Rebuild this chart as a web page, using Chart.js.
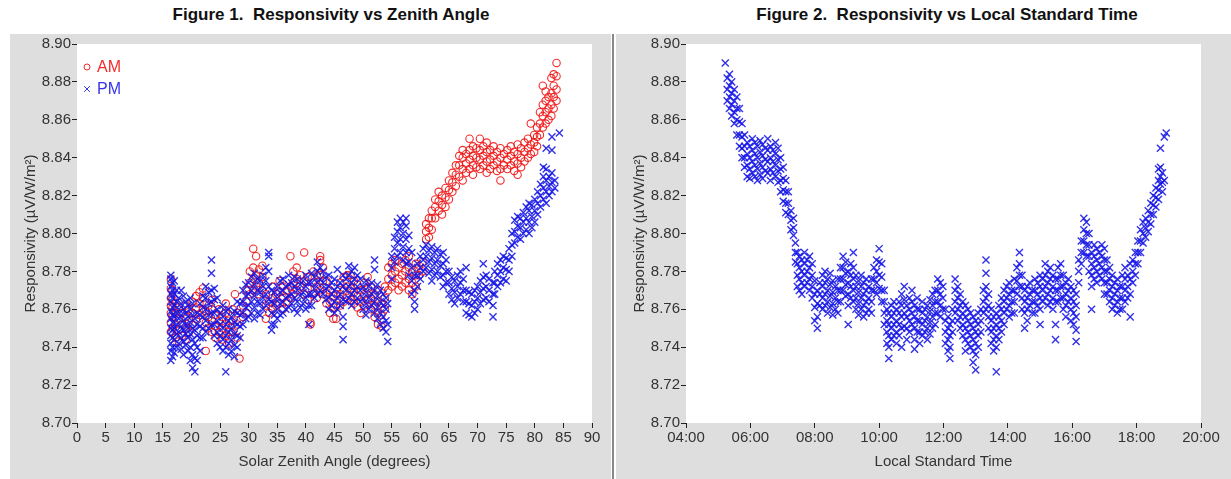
<!DOCTYPE html>
<html>
<head>
<meta charset="utf-8">
<script src="https://cdn.jsdelivr.net/npm/chart.js@4.4.1/dist/chart.umd.min.js"></script>
<style>
  body { margin:0; background:#fff; width:1231px; height:479px; position:relative; overflow:hidden;
         font-family:'Liberation Sans', Arial, sans-serif; }
  .title { position:absolute; top:5px; font-weight:bold; font-size:17px; color:#111; white-space:nowrap; transform:translateX(-50%); }
  .panel { position:absolute; top:34px; height:445px; background:#dedede; }
  #p1 { left:10px; width:601px; }
  #p2 { left:616px; width:615px; }
  #sep { position:absolute; left:612px; top:34px; width:2px; height:445px; background:#888; }
</style>
</head>
<body>
<div class="title" style="left:331px">Figure 1.&nbsp; Responsivity vs Zenith Angle</div>
<div class="title" style="left:947px">Figure 2.&nbsp; Responsivity vs Local Standard Time</div>
<div class="panel" id="p1"><canvas id="zenith" width="601" height="445"></canvas></div>
<div id="sep"></div>
<div class="panel" id="p2"><canvas id="lst" width="615" height="445"></canvas></div>

<script>
// readings grouped by x value: each x has a few responsivity readings

// Figure 1, morning
const amAngle = [16.4,16.7,17.2,17.8,18.4,19.0,19.6,20.2,20.8,21.4,22.0,22.5,23.0,23.6,24.2,24.8,25.4,26.0,26.6,27.2,27.6,28.0,28.4,29.0,29.6,
  30.2,30.8,31.3,31.8,32.4,33.0,33.6,34.2,34.8,35.4,36.0,36.6,37.3,37.8,38.4,39.0,39.7,40.3,40.8,41.3,41.9,42.5,43.0,43.6,44.2,44.8,
  45.3,46.0,46.6,47.2,47.8,48.4,49.0,49.6,50.2,50.8,51.4,52.0,52.6,53.2,53.8,54.4,55.0,55.6,56.2,56.8,57.4,58.0,58.6,59.2,59.8,60.4,
  61.0,61.5,62.0,62.6,63.2,63.8,64.4,65.0,65.6,66.2,66.8,67.4,68.0,68.6,69.2,69.8,70.4,71.0,71.6,72.2,72.8,73.4,74.0,74.6,75.2,75.8,
  76.4,77.0,77.6,78.2,78.8,79.3,79.9,80.4,80.9,81.4,81.9,82.4,82.9,83.3,83.8];
const amResp = [
  [8.748,8.753,8.758,8.762,8.766,8.771,8.776],[8.750,8.756,8.761,8.765,8.770],[8.745,8.752,8.758,8.763],[8.743,8.749,8.755,8.761],
  [8.746,8.752,8.758],[8.744,8.750,8.756,8.762],[8.748,8.754,8.760],[8.752,8.758,8.764],[8.755,8.761,8.767],[8.757,8.763,8.769],
  [8.760,8.766,8.771],[8.738,8.753,8.759],[8.750,8.756,8.762],[8.748,8.754,8.760,8.765],[8.745,8.751,8.757],[8.748,8.754,8.760],
  [8.744,8.750,8.756],[8.746,8.752,8.758,8.763],[8.742,8.748,8.754],[8.748,8.754,8.760],[8.768],[8.745,8.752,8.758],[8.734],
  [8.756,8.762],[8.758,8.764,8.770],
  [8.768,8.774,8.780],[8.770,8.776,8.782,8.792],[8.772,8.778,8.788],[8.768,8.774,8.781],[8.770,8.777,8.783],[8.755,8.762,8.768],
  [8.758,8.764],[8.760,8.766,8.772],[8.762,8.768],[8.763,8.769,8.775],[8.760,8.766,8.772],[8.764,8.770],[8.766,8.772,8.788],
  [8.768,8.774,8.780],[8.770,8.776,8.782],[8.772,8.778],[8.768,8.775,8.790],[8.765,8.771,8.777],[8.752,8.753],[8.768,8.774,8.780],
  [8.766,8.772,8.778],[8.770,8.778,8.786,8.788],[8.768,8.775,8.782],[8.763,8.769,8.775],[8.758,8.764,8.770],[8.755,8.761,8.767],
  [8.755,8.762,8.768],[8.762,8.768,8.774],[8.764,8.770,8.777],[8.766,8.772,8.778],[8.765,8.771,8.778],[8.763,8.769,8.775],
  [8.761,8.767,8.773],[8.758,8.764,8.770],[8.762,8.768,8.774],[8.765,8.771,8.777],[8.760,8.766,8.772],[8.756,8.762,8.768],
  [8.752,8.758,8.764,8.770],[8.751,8.757,8.763],[8.760,8.766,8.772],[8.770,8.776,8.782],[8.772,8.778,8.784],[8.774,8.780,8.786],
  [8.770,8.776,8.782],[8.772,8.778,8.784],[8.774,8.780,8.786],[8.770,8.776,8.782,8.788],[8.768,8.774,8.780],[8.772,8.778,8.784],
  [8.778,8.783],[8.780,8.785],
  [8.797,8.801,8.805],[8.798,8.803,8.808],[8.802,8.808,8.812],[8.808,8.814,8.818],[8.812,8.817,8.822],[8.810,8.815,8.820],
  [8.814,8.819,8.824],[8.818,8.823,8.828],[8.822,8.827,8.832],[8.825,8.831,8.836],[8.830,8.836,8.841],[8.828,8.834,8.840,8.844],
  [8.832,8.837,8.842],[8.834,8.839,8.844,8.850],[8.831,8.836,8.841,8.846],[8.835,8.840,8.845],[8.834,8.839,8.844,8.850],
  [8.836,8.841,8.846],[8.832,8.838,8.843,8.848],[8.834,8.839,8.844],[8.836,8.841,8.846],[8.833,8.838,8.843],
  [8.828,8.834,8.840,8.845],[8.836,8.842],[8.834,8.839,8.844],[8.836,8.841,8.846],[8.833,8.838,8.843],[8.831,8.837,8.842,8.847],
  [8.835,8.840,8.845],[8.838,8.843,8.848],[8.840,8.845,8.850],[8.842,8.847,8.858],[8.843,8.848,8.852],[8.846,8.851,8.856],
  [8.852,8.858,8.864],[8.856,8.862,8.868,8.878],[8.858,8.864,8.870,8.875],[8.860,8.866,8.872],[8.862,8.868,8.874,8.882],
  [8.866,8.872,8.878,8.884],[8.870,8.876,8.883,8.890]
];

// Figure 1, afternoon
const pmAngle = [16.4,16.7,17.0,17.4,17.8,18.2,18.6,19.0,19.4,19.8,20.2,20.6,21.0,21.5,22.0,22.5,23.0,23.5,24.0,24.5,25.0,25.5,26.0,
  26.5,27.0,27.5,28.0,28.5,29.0,29.5,30.0,30.5,31.0,31.5,32.0,32.5,33.0,33.5,34.0,34.5,35.0,35.5,36.0,36.5,37.0,37.5,38.0,38.5,39.0,
  39.5,40.0,40.5,41.0,41.5,42.0,42.5,43.0,43.5,44.0,44.5,45.0,45.5,46.0,46.5,47.0,47.5,48.0,48.5,49.0,49.5,50.0,50.5,51.0,51.5,52.0,
  52.5,53.0,53.5,54.0,54.3,55.0,55.5,56.0,56.5,57.0,57.5,58.0,58.5,59.0,59.5,60.0,60.5,61.0,61.5,62.0,62.5,63.0,63.5,64.0,64.5,
  65.0,65.5,66.0,66.5,67.0,67.5,68.0,68.5,69.0,69.5,70.0,70.5,71.0,71.5,72.0,72.7,73.0,73.5,74.0,74.5,75.0,75.5,76.0,76.5,77.0,
  77.5,78.0,78.5,79.0,79.5,80.0,80.5,81.0,81.5,82.0,82.5,83.0,83.5,84.3];
const pmResp = [
  [8.733,8.738,8.742,8.746,8.750,8.755,8.759,8.764,8.768,8.772,8.776,8.778],[8.735,8.740,8.745,8.749,8.753,8.757,8.761,8.766,8.770,8.774],
  [8.737,8.744,8.750,8.756,8.762,8.768,8.775],[8.740,8.747,8.752,8.758,8.764,8.770],[8.742,8.748,8.755,8.760,8.766],
  [8.739,8.745,8.751,8.757,8.763,8.770],[8.736,8.743,8.749,8.754,8.760,8.767],[8.741,8.747,8.752,8.758,8.764],
  [8.738,8.745,8.750,8.756,8.762],[8.733,8.740,8.747,8.753,8.760,8.766],[8.729,8.736,8.744,8.750,8.757,8.763],
  [8.727,8.734,8.742,8.749,8.755],[8.733,8.740,8.746,8.752,8.758],[8.738,8.745,8.751,8.757,8.763],[8.745,8.750,8.756,8.761,8.767],
  [8.748,8.754,8.760,8.766,8.772],[8.750,8.757,8.763,8.769],[8.752,8.758,8.764,8.770,8.779,8.786],[8.746,8.752,8.758,8.765,8.771],
  [8.742,8.748,8.754,8.760,8.766],[8.740,8.746,8.752,8.758],[8.738,8.744,8.750,8.756,8.762],[8.727,8.740,8.746,8.752,8.759],
  [8.736,8.742,8.748,8.754,8.760],[8.738,8.744,8.750,8.756],[8.735,8.741,8.747,8.753,8.759],[8.740,8.746,8.752,8.758,8.764],
  [8.745,8.751,8.757,8.763],[8.752,8.758,8.764,8.770],[8.755,8.761,8.767,8.773],[8.756,8.762,8.768,8.774],[8.758,8.764,8.770,8.777],
  [8.755,8.761,8.767,8.773,8.779],[8.758,8.764,8.770,8.776],[8.757,8.763,8.769,8.775],[8.760,8.766,8.772,8.778],
  [8.762,8.768,8.775,8.782],[8.765,8.772,8.780,8.788,8.790],[8.749,8.752,8.758,8.764,8.770],[8.752,8.757,8.763,8.769],
  [8.755,8.760,8.766,8.772],[8.757,8.763,8.769,8.775],[8.758,8.764,8.770,8.776],[8.760,8.766,8.772],[8.761,8.767,8.773,8.778],
  [8.763,8.768,8.774],[8.760,8.766,8.772,8.777],[8.758,8.764,8.770,8.776],[8.761,8.767,8.773],[8.763,8.769,8.775],
  [8.760,8.766,8.772,8.778],[8.752,8.762,8.768,8.774],[8.762,8.768,8.774,8.779],[8.766,8.771,8.777],[8.768,8.774,8.780,8.785],
  [8.770,8.776,8.782],[8.768,8.774,8.780],[8.765,8.771,8.777],[8.760,8.766,8.772,8.778],[8.762,8.768,8.774],[8.758,8.764,8.770,8.776],
  [8.760,8.766,8.772,8.781],[8.762,8.768,8.774],[8.744,8.751,8.756,8.765,8.772,8.778],[8.764,8.770,8.776],[8.766,8.772,8.778,8.783],
  [8.762,8.768,8.774,8.780],[8.764,8.770,8.776,8.782],[8.766,8.772,8.778],[8.764,8.770,8.776],[8.760,8.766,8.772],
  [8.757,8.763,8.769,8.775],[8.760,8.766,8.772],[8.762,8.768,8.774],[8.758,8.764,8.770,8.781,8.786],[8.755,8.761,8.767,8.773],
  [8.752,8.758,8.764,8.770],[8.750,8.756,8.762,8.768],[8.748,8.754,8.760,8.766],[8.743,8.752,8.763],[8.776,8.782,8.788],
  [8.785,8.792,8.798],[8.788,8.795,8.801,8.806],[8.790,8.797,8.803,8.808],[8.786,8.793,8.800,8.806],[8.784,8.790,8.797,8.804,8.808],
  [8.778,8.785,8.792,8.799],[8.768,8.775,8.782,8.790],[8.760,8.764,8.770,8.778],[8.772,8.778,8.784],[8.776,8.782,8.788],
  [8.780,8.786,8.792],[8.782,8.788,8.794],[8.779,8.785,8.791],[8.775,8.781,8.787,8.793],[8.778,8.784,8.790],[8.780,8.786,8.792],
  [8.777,8.783,8.789],[8.772,8.778,8.784,8.790],[8.774,8.780,8.786],[8.768,8.774,8.780],[8.765,8.771,8.777],[8.763,8.769,8.775],
  [8.766,8.772,8.778],[8.768,8.774,8.780],[8.764,8.770,8.776],[8.758,8.764,8.770,8.782],[8.757,8.763,8.769],[8.756,8.762,8.768],
  [8.758,8.764,8.770],[8.760,8.766,8.772],[8.763,8.769,8.775],[8.765,8.771,8.777,8.784],[8.766,8.772,8.778],[8.764,8.770,8.776],
  [8.756,8.762,8.768,8.774],[8.768,8.774,8.780],[8.772,8.778,8.784],[8.774,8.780,8.786],[8.776,8.782,8.788],[8.775,8.781,8.787],
  [8.780,8.786,8.792],[8.788,8.794,8.800],[8.795,8.801,8.807],[8.798,8.804,8.809],[8.797,8.803,8.808],[8.800,8.806,8.811],
  [8.802,8.808,8.814],[8.800,8.806,8.812,8.816],[8.803,8.809,8.815],[8.806,8.812,8.818],[8.810,8.816,8.822],[8.814,8.820,8.826],
  [8.818,8.824,8.830,8.835],[8.816,8.822,8.828,8.834,8.845],[8.820,8.825,8.830],[8.822,8.827,8.832,8.844,8.851],[8.824,8.828],[8.853]
];

// Figure 2, whole day (decimal hours)
const lstHour = [5.22,5.28,5.35,5.42,5.50,5.58,5.66,5.74,5.82,5.90,5.98,6.06,6.14,6.22,6.30,6.38,6.46,6.54,6.62,6.70,6.78,6.86,
  6.94,7.02,7.10,7.18,7.26,7.34,7.40,7.46,7.52,7.60,7.68,7.76,7.84,7.92,8.00,8.08,8.16,8.24,8.32,8.40,8.48,8.56,8.64,8.72,8.80,
  8.88,8.96,9.04,9.12,9.20,9.28,9.36,9.44,9.52,9.60,9.68,9.76,9.84,9.92,10.00,10.08,10.16,10.24,10.30,10.38,10.46,10.54,10.62,
  10.70,10.78,10.86,10.94,11.02,11.10,11.18,11.26,11.34,11.42,11.50,11.58,11.66,11.74,11.82,11.90,11.98,12.06,12.14,12.20,
  12.28,12.36,12.44,12.52,12.60,12.68,12.76,12.84,12.92,13.00,13.08,13.16,13.24,13.32,13.40,13.48,13.56,13.64,13.72,13.80,
  13.88,13.96,14.04,14.12,14.20,14.28,14.36,14.44,14.52,14.60,14.68,14.76,14.84,14.92,15.00,15.08,15.16,15.24,15.32,15.40,
  15.48,15.56,15.64,15.72,15.80,15.88,15.96,16.04,16.12,16.20,16.28,16.36,16.44,16.52,16.60,16.68,16.76,16.84,16.92,17.00,
  17.08,17.16,17.24,17.32,17.40,17.48,17.56,17.64,17.72,17.80,17.88,17.96,18.04,18.12,18.20,18.28,18.36,18.44,18.52,18.60,
  18.68,18.74,18.80,18.86,18.92];
const lstResp = [
  [8.890],[8.882,8.876,8.870],[8.884,8.878,8.872,8.866],[8.880,8.874,8.868,8.862],[8.876,8.870,8.864,8.858],[8.872,8.866,8.860,8.852],
  [8.866,8.859,8.852,8.846],[8.858,8.851,8.845,8.840],[8.852,8.846,8.840,8.835],[8.848,8.842,8.836,8.830],[8.846,8.840,8.834,8.829],
  [8.850,8.844,8.838,8.832],[8.848,8.842,8.836,8.830],[8.846,8.840,8.834,8.828],[8.849,8.843,8.837,8.831],[8.847,8.841,8.835,8.829],
  [8.845,8.839,8.833],[8.850,8.844,8.838,8.832],[8.846,8.840,8.834,8.828],[8.844,8.838,8.832],[8.848,8.842,8.836,8.830],
  [8.845,8.839,8.833,8.827],[8.840,8.834,8.828,8.822],[8.835,8.829,8.823,8.817],[8.828,8.822,8.816,8.811],[8.822,8.816,8.810],
  [8.812,8.807,8.802],[8.808,8.803,8.799],[8.795,8.790,8.785],[8.790,8.784,8.778,8.772],[8.788,8.782,8.776,8.770],
  [8.786,8.780,8.774,8.768],[8.790,8.784,8.778,8.772],[8.786,8.780,8.774],[8.788,8.782,8.776,8.770],[8.784,8.778,8.772,8.766],
  [8.775,8.768,8.761,8.754],[8.770,8.763,8.756,8.750],[8.774,8.768,8.762],[8.778,8.772,8.766,8.760],[8.780,8.774,8.768,8.762],
  [8.776,8.770,8.764,8.758],[8.779,8.773,8.767,8.761],[8.775,8.769,8.763,8.757],[8.772,8.766,8.760],[8.776,8.770,8.764,8.758],
  [8.782,8.776,8.770,8.764],[8.788,8.782,8.776,8.770],[8.785,8.779,8.773,8.767],[8.780,8.774,8.768,8.762,8.752],
  [8.784,8.778,8.772,8.766],[8.790,8.782,8.776,8.770,8.764],[8.778,8.772,8.766,8.760],[8.775,8.769,8.763,8.757],
  [8.778,8.772,8.766,8.760],[8.774,8.768,8.762,8.756],[8.776,8.770,8.764,8.758],[8.772,8.766,8.760],[8.776,8.770,8.764,8.758],
  [8.782,8.776,8.770],[8.786,8.780,8.774,8.768],[8.792,8.785,8.778,8.771],[8.784,8.777,8.770,8.764],[8.770,8.764,8.758,8.752],
  [8.760,8.754,8.748,8.742],[8.758,8.752,8.746,8.740,8.734],[8.762,8.756,8.750,8.744],[8.764,8.758,8.752,8.746],
  [8.760,8.754,8.748,8.742],[8.764,8.758,8.752,8.746],[8.768,8.762,8.756,8.750,8.740],[8.772,8.765,8.758,8.751],
  [8.762,8.756,8.750,8.744],[8.766,8.760,8.754,8.748],[8.770,8.764,8.758,8.752],[8.762,8.756,8.750,8.744,8.739],
  [8.766,8.760,8.754,8.748],[8.760,8.754,8.748,8.742],[8.764,8.758,8.752,8.746],[8.760,8.754,8.748],[8.762,8.756,8.750,8.744],
  [8.765,8.759,8.753,8.747],[8.768,8.762,8.756,8.750],[8.770,8.764,8.758,8.752],[8.776,8.770,8.764,8.758],[8.774,8.768,8.762,8.756],
  [8.772,8.766,8.760],[8.760,8.754,8.748,8.742],[8.756,8.750,8.744,8.738],[8.752,8.746,8.740,8.734],[8.760,8.754,8.748],
  [8.776,8.770,8.764,8.758],[8.772,8.766,8.760,8.754],[8.768,8.762,8.756,8.750],[8.764,8.758,8.752,8.746],
  [8.762,8.756,8.750,8.744,8.738],[8.760,8.754,8.748,8.742],[8.758,8.752,8.746,8.740],[8.756,8.750,8.744,8.738,8.732],
  [8.754,8.748,8.742,8.736,8.728],[8.758,8.752,8.746,8.740],[8.760,8.754,8.748],[8.770,8.764,8.758],[8.786,8.779,8.772,8.766,8.760],
  [8.768,8.762,8.756,8.750],[8.760,8.754,8.748,8.742],[8.756,8.750,8.744,8.738],[8.758,8.752,8.746,8.740,8.727],
  [8.762,8.756,8.750,8.744],[8.766,8.760,8.754,8.748],[8.770,8.764,8.758,8.752],[8.772,8.766,8.760],[8.774,8.768,8.762,8.756],
  [8.770,8.764,8.758],[8.776,8.770,8.764,8.758],[8.782,8.775,8.768],[8.790,8.784,8.778,8.772],[8.778,8.772,8.766,8.760],
  [8.770,8.764,8.758,8.750],[8.772,8.766,8.760,8.754],[8.774,8.768,8.762],[8.770,8.764,8.758],[8.776,8.770,8.764,8.758],
  [8.774,8.768,8.762],[8.778,8.772,8.766,8.760,8.752],[8.776,8.770,8.764],[8.784,8.778,8.772,8.766],[8.780,8.774,8.768,8.762],
  [8.782,8.776,8.770,8.764],[8.778,8.772,8.766,8.760],[8.776,8.770,8.764,8.752,8.744],[8.782,8.776,8.770,8.764],
  [8.784,8.778,8.772,8.766],[8.778,8.772,8.766,8.760],[8.774,8.768,8.762,8.756],[8.776,8.770,8.764],[8.772,8.766,8.760,8.754],
  [8.770,8.764,8.758,8.752],[8.768,8.762,8.756,8.749,8.743],[8.786,8.780,8.774],[8.796,8.790,8.784],[8.808,8.802,8.796,8.790],
  [8.806,8.800,8.794,8.788],[8.800,8.794,8.788,8.780],[8.790,8.784,8.778,8.772,8.760],[8.794,8.788,8.782,8.776],
  [8.792,8.786,8.780,8.774],[8.790,8.784,8.778],[8.794,8.788,8.782,8.776],[8.792,8.786,8.780,8.774,8.768],[8.786,8.780,8.774,8.768],
  [8.782,8.776,8.770,8.764],[8.778,8.772,8.766,8.760],[8.774,8.768,8.762],[8.776,8.770,8.764,8.758],[8.772,8.766,8.760],
  [8.778,8.772,8.766,8.760],[8.782,8.776,8.770,8.764],[8.778,8.772,8.766],[8.784,8.776,8.768,8.756],[8.786,8.780,8.774],
  [8.790,8.784,8.778],[8.796,8.790,8.784],[8.802,8.796,8.790],[8.806,8.800,8.795],[8.808,8.803,8.798],[8.812,8.806,8.801],
  [8.816,8.810,8.805],[8.820,8.815,8.810],[8.824,8.819,8.814],[8.828,8.823,8.818,8.834],[8.830,8.826,8.845,8.835],
  [8.832,8.827,8.822],[8.851,8.828],[8.853]
];

const respTicks = { min: 8.70, max: 8.90, step: 0.02 };

function toPoints(xs, ys) {
  const pts = [];
  xs.forEach((x, i) => ys[i].forEach(y => pts.push({ x: x, y: y })));
  return pts;
}

const FONT = "'Liberation Sans', Arial, sans-serif";
const RED = 'rgba(240,20,20,0.9)';
const BLUE = 'rgba(20,20,230,0.88)';

// white plot area on the gray panel
const plotBg = {
  id: 'plotBg',
  beforeDraw(chart) {
    const { ctx, chartArea: a } = chart;
    ctx.save();
    ctx.fillStyle = '#fff';
    ctx.fillRect(a.left, a.top, a.right - a.left, a.bottom - a.top);
    ctx.restore();
  }
};

// small legend in the top left corner of the plot
const cornerLegend = {
  id: 'cornerLegend',
  afterDatasetsDraw(chart, args, opts) {
    if (!opts.show) return;
    const { ctx, chartArea: a } = chart;
    ctx.save();
    chart.data.datasets.forEach((ds, i) => {
      const x = a.left + 10, y = a.top + 23 + i * 22;
      ctx.strokeStyle = ds.borderColor;
      ctx.fillStyle = 'rgba(0,0,0,0)';
      ctx.lineWidth = 1;
      Chart.helpers.drawPoint(ctx, { pointStyle: ds.pointStyle, radius: ds.pointStyle === 'circle' ? 3 : 4, rotation: 0, borderWidth: 1 }, x, y);
      ctx.fillStyle = ds.borderColor;
      ctx.font = '16px ' + FONT;
      ctx.textBaseline = 'middle';
      ctx.fillText(ds.label, x + 10, y + 1);
    });
    ctx.restore();
  }
};

function axes(xOpts, yTitlePad, yWidth) {
  const tickFont = { family: FONT, size: 15 };
  const grid = { display: true, drawOnChartArea: false, drawTicks: true, tickLength: 5, color: '#222' };
  return {
    x: Object.assign({
      type: 'linear',
      grid: grid,
      border: { display: false },
      afterFit: s => { s.height = 56; }
    }, xOpts, {
      ticks: Object.assign({ font: tickFont, color: '#333', padding: 1, maxRotation: 0, autoSkip: false }, xOpts.ticks),
      title: Object.assign({ display: true, font: tickFont, color: '#333', padding: { top: 0, bottom: 8 } }, xOpts.title)
    }),
    y: {
      min: respTicks.min, max: respTicks.max,
      grid: grid,
      border: { display: false },
      afterFit: s => { s.width = yWidth; },
      ticks: { stepSize: respTicks.step, font: tickFont, color: '#333', padding: 1, callback: v => v.toFixed(2) },
      title: { display: true, text: 'Responsivity (\u00B5V/W/m\u00B2)', font: tickFont, color: '#333', padding: { top: yTitlePad, bottom: 0 } }
    }
  };
}

new Chart(document.getElementById('zenith'), {
  type: 'scatter',
  data: {
    datasets: [
      { label: 'AM', data: toPoints(amAngle, amResp), pointStyle: 'circle', pointRadius: 3.7, borderWidth: 1.1,
        borderColor: RED, backgroundColor: 'rgba(0,0,0,0)', order: 1 },
      { label: 'PM', data: toPoints(pmAngle, pmResp), pointStyle: 'crossRot', pointRadius: 5, borderWidth: 1.4,
        borderColor: BLUE, backgroundColor: BLUE, order: 0 }
    ]
  },
  options: {
    responsive: false,
    animation: false,
    events: [],
    layout: { padding: { left: 0, top: 10, right: 19, bottom: 0 } },
    plugins: { legend: { display: false }, tooltip: { enabled: false }, cornerLegend: { show: true } },
    scales: axes({ min: 0, max: 90, ticks: { stepSize: 5 }, title: { text: 'Solar Zenith Angle (degrees)' } }, 12, 67)
  },
  plugins: [plotBg, cornerLegend]
});

new Chart(document.getElementById('lst'), {
  type: 'scatter',
  data: {
    datasets: [
      { label: 'Responsivity', data: toPoints(lstHour, lstResp), pointStyle: 'crossRot', pointRadius: 5, borderWidth: 1.4,
        borderColor: BLUE, backgroundColor: BLUE }
    ]
  },
  options: {
    responsive: false,
    animation: false,
    events: [],
    layout: { padding: { left: 0, top: 10, right: 30, bottom: 0 } },
    plugins: { legend: { display: false }, tooltip: { enabled: false }, cornerLegend: { show: false } },
    scales: axes({ min: 4, max: 20,
      ticks: { stepSize: 2, callback: v => (v < 10 ? '0' : '') + v + ':00' },
      title: { text: 'Local Standard Time' } }, 15, 70)
  },
  plugins: [plotBg, cornerLegend]
});
</script>
</body>
</html>
